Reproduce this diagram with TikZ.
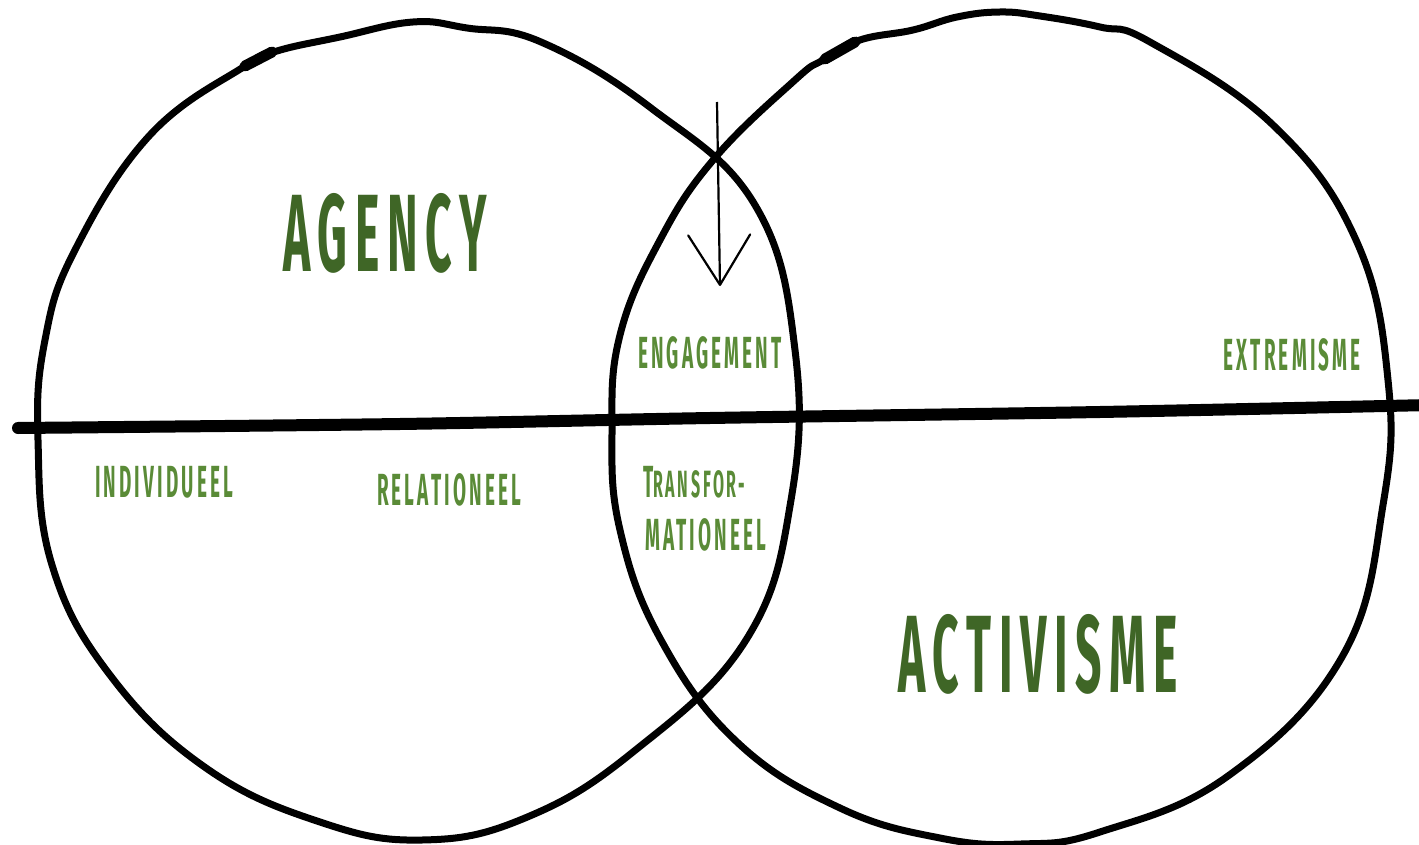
\documentclass[tikz,border=0pt]{standalone}
\usepackage{fontspec}
\setmainfont{Fira Sans}
\newfontfamily\handfont[FakeStretch=0.42,LetterSpace=7]{Fira Sans}
\usetikzlibrary{arrows.meta}
\definecolor{leafdark}{HTML}{3F6626}
\definecolor{leaf}{HTML}{5A8B37}
\tikzset{
  rim/.style={line width=7pt, line join=round, line cap=round},
  blob/.style={line width=11pt, line cap=round},
  bigword/.style={anchor=base, inner sep=0pt, text=leafdark,
    font=\handfont\bfseries\fontsize{110}{110}\selectfont},
  smallword/.style={anchor=base, inner sep=0pt, text=leaf,
    font=\handfont\bfseries\fontsize{45}{45}\selectfont},
}
\begin{document}
\begin{tikzpicture}[x=1pt,y=-1pt]
\useasboundingbox (0,0) rectangle (1419,845);
\clip (0,0) rectangle (1419,845);
% left circle
\draw[rim] plot[smooth cycle, tension=0.7] coordinates {
  (38,440) (52,565) (110,675) (206,768) (320,822) (422,840) (525,818)
  (633,752) (746,640) (791,500) (795,350) (755,205) (651,108) (541,42)
  (467,28) (413,22) (340,37) (277,51) (245,66) (150,135) (75,250)
  (45,340)};
\draw[blob] (245,66) -- (272,52);
% right circle
\draw[rim] plot[smooth cycle, tension=0.7] coordinates {
  (612,430) (620,335) (660,240) (714,159) (795,80) (823,60) (860,40)
  (913,30) (957,17) (1000,12) (1040,16) (1100,27) (1150,42) (1273,125)
  (1356,240) (1388,380) (1383,505) (1342,657) (1228,776) (1100,832)
  (1021,844) (940,838) (840,808) (737,742) (661,640) (620,530)};
\draw[blob] (825,59) -- (855,42);
% horizontal bar
\coordinate (lineW) at (18,428);
\coordinate (lineE) at (1430,405);
\draw[line width=12pt, line cap=round] plot[smooth] coordinates {
  (lineW) (400,424) (710,418) (1100,412) (lineE)};
% arrow into the overlap
\coordinate (arrtop) at (717,102);
\coordinate (arrtip) at (720,286);
\draw[line width=2.2pt, -{Straight Barb[length=50pt,width=62pt,round]}]
  (arrtop) -- (arrtip);
% labels
\node[bigword] (agency) at (385,272) {AGENCY};
\node[bigword] (activisme) at (1038,692) {ACTIVISME};
\node[smallword] (engagement) at (710,368) {ENGAGEMENT};
\node[smallword] (extremisme) at (1292,370) {EXTREMISME};
\node[smallword] (individueel) at (164,497) {INDIVIDUEEL};
\node[smallword] (relationeel) at (449,505) {RELATIONEEL};
\node[smallword, anchor=base west] (transfor) at (643,497)
  {T{\fontsize{38}{38}\selectfont RANSFOR-}};
\node[smallword, anchor=base west] (mationeel) at (645,550) {MATIONEEL};
\end{tikzpicture}
\end{document}
